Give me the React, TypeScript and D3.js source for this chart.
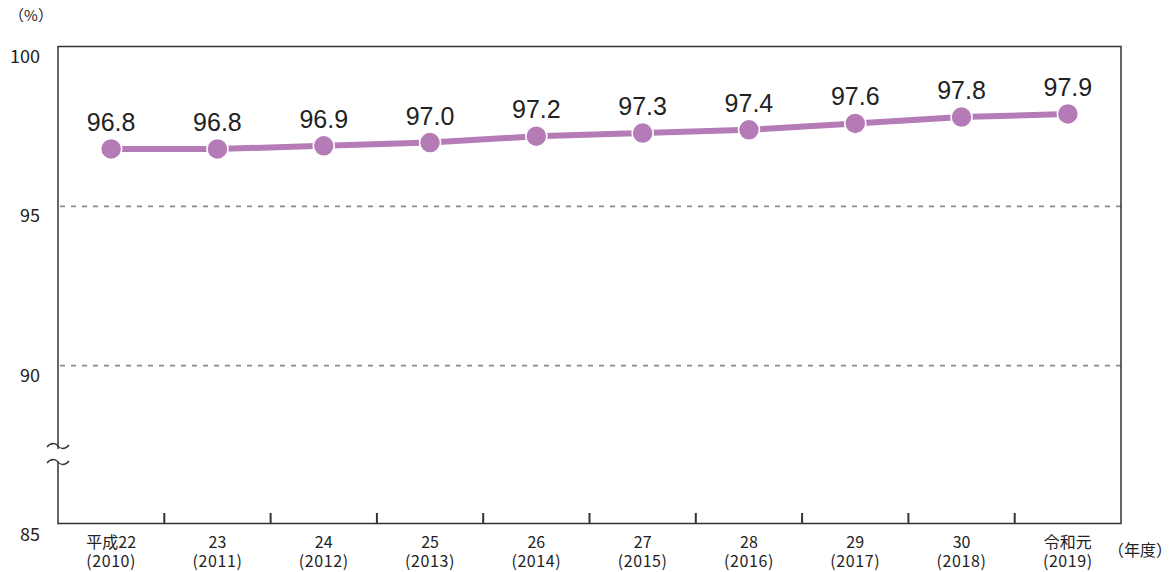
import React, { useEffect, useRef } from "react";
import * as d3 from "d3";

const years = ["平成22", "23", "24", "25", "26", "27", "28", "29", "30", "令和元"];
const westernYears = ["2010", "2011", "2012", "2013", "2014", "2015", "2016", "2017", "2018", "2019"];
const rates = [96.8, 96.8, 96.9, 97.0, 97.2, 97.3, 97.4, 97.6, 97.8, 97.9];
const yTicks = [85, 90, 95, 100];
const gridValues = [90, 95];

const FONT = "'Noto Sans CJK JP', 'Noto Sans', sans-serif";
const LINE_COLOR = "#b57bb6";

function App() {
  const ref = useRef<SVGSVGElement | null>(null);

  useEffect(() => {
    const svg = d3.select(ref.current);
    svg.selectAll("*").remove();

    const left = 58, right = 1121, top = 47, bottom = 525;

    const x = d3.scaleBand<number>()
      .domain(d3.range(years.length))
      .range([left, right]);
    const y = d3.scaleLinear().domain([85, 100]).range([bottom, top]);
    const cx = (i: number) => (x(i) as number) + x.bandwidth() / 2;

    // dashed grid
    svg.selectAll(".grid")
      .data(gridValues)
      .enter()
      .append("line")
      .attr("x1", left + 2).attr("x2", right)
      .attr("y1", d => y(d)).attr("y2", d => y(d))
      .attr("stroke", "#8c8c8c")
      .attr("stroke-width", 1.6)
      .attr("stroke-dasharray", "5,6");

    // frame (top, right, bottom)
    svg.append("path")
      .attr("d", `M${left},${top - 0.5}H${right}V${bottom - 1.5}H${left}`)
      .attr("fill", "none")
      .attr("stroke", "#333")
      .attr("stroke-width", 1.5);

    // left axis with break
    svg.append("line")
      .attr("x1", left).attr("x2", left)
      .attr("y1", top - 1).attr("y2", 449)
      .attr("stroke", "#333").attr("stroke-width", 1.5);
    svg.append("line")
      .attr("x1", left).attr("x2", left)
      .attr("y1", 461).attr("y2", bottom - 0.7)
      .attr("stroke", "#333").attr("stroke-width", 1.5);
    [446, 462].forEach(yy => {
      svg.append("path")
        .attr("d", `M47,${yy + 1} C51,${yy - 4} 56,${yy - 3} 58,${yy} S65,${yy + 4} 69,${yy - 1}`)
        .attr("fill", "none")
        .attr("stroke", "#333")
        .attr("stroke-width", 1.3);
    });

    // category ticks between bands
    svg.selectAll(".tick")
      .data(d3.range(1, years.length))
      .enter()
      .append("line")
      .attr("x1", d => x(d) as number).attr("x2", d => x(d) as number)
      .attr("y1", bottom - 1.5).attr("y2", bottom - 12)
      .attr("stroke", "#333").attr("stroke-width", 2);

    // y labels
    svg.selectAll(".ylab")
      .data(yTicks)
      .enter()
      .append("text")
      .attr("x", 40)
      .attr("y", d => y(d) + 16)
      .attr("text-anchor", "end")
      .style("font-family", FONT)
      .style("font-size", "18px")
      .attr("fill", "#222")
      .text(d => d);

    svg.append("text")
      .attr("x", 31).attr("y", 21)
      .attr("text-anchor", "middle")
      .style("font-family", FONT)
      .style("font-size", "15px")
      .attr("fill", "#222")
      .text("（%）");

    // x labels
    svg.selectAll(".xlab1")
      .data(years)
      .enter()
      .append("text")
      .attr("x", (d, i) => cx(i))
      .attr("y", 548)
      .attr("text-anchor", "middle")
      .style("font-family", FONT)
      .style("font-size", "16px")
      .attr("fill", "#222")
      .text(d => d);
    svg.selectAll(".xlab2")
      .data(westernYears)
      .enter()
      .append("text")
      .attr("x", (d, i) => cx(i))
      .attr("y", 567)
      .attr("text-anchor", "middle")
      .style("font-family", FONT)
      .style("font-size", "16px")
      .style("letter-spacing", "0.6px")
      .attr("fill", "#222")
      .text(d => `(${d})`);

    svg.append("text")
      .attr("x", 1140).attr("y", 556)
      .attr("text-anchor", "middle")
      .style("font-family", FONT)
      .style("font-size", "16px")
      .attr("fill", "#222")
      .text("（年度）");

    // line
    const line = d3.line<number>()
      .x((d, i) => cx(i))
      .y(d => y(d));
    svg.append("path")
      .datum(rates)
      .attr("d", line)
      .attr("fill", "none")
      .attr("stroke", LINE_COLOR)
      .attr("stroke-width", 6);

    svg.selectAll(".pt")
      .data(rates)
      .enter()
      .append("circle")
      .attr("cx", (d, i) => cx(i))
      .attr("cy", d => y(d))
      .attr("r", 10.5)
      .attr("fill", LINE_COLOR)
      .attr("stroke", "#fff")
      .attr("stroke-width", 1.5);

    svg.selectAll(".val")
      .data(rates)
      .enter()
      .append("text")
      .attr("x", (d, i) => cx(i))
      .attr("y", d => y(d) - 18)
      .attr("text-anchor", "middle")
      .style("font-family", "'Liberation Sans', Arial, sans-serif")
      .style("font-size", "25px")
      .attr("fill", "#222")
      .text(d => d.toFixed(1));
  }, []);

  return (
    <svg
      ref={ref}
      width={1173}
      height={572}
      style={{ position: "absolute", left: 0, top: 0, background: "#fff" }}
    />
  );
}

export default App;
